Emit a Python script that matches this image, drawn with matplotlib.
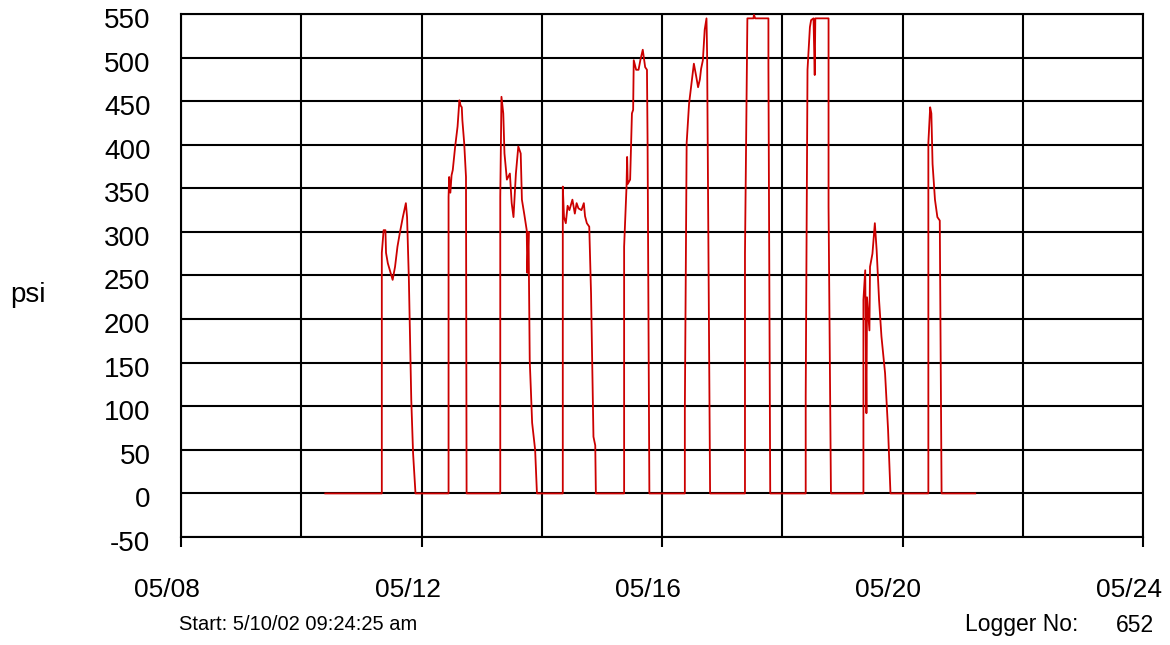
import matplotlib
matplotlib.use("Agg")
import matplotlib.pyplot as plt
import matplotlib.transforms as mtransforms
import numpy as np

# logger samples: day of May (fractional) and pressure in psi
day = [10.40, 11.34, 11.34, 11.37, 11.40, 11.41, 11.44, 11.52, 11.56, 11.60,
       11.64, 11.69, 11.74, 11.76, 11.79, 11.83, 11.86, 11.90,
       12.45, 12.45, 12.46, 12.48, 12.50, 12.52, 12.56, 12.60, 12.63, 12.65,
       12.67, 12.68, 12.71, 12.74, 12.75,
       13.31, 13.31, 13.33, 13.36, 13.38, 13.42, 13.47, 13.50, 13.53, 13.57,
       13.61, 13.65, 13.67, 13.71, 13.75, 13.76, 13.78, 13.80, 13.84, 13.89, 13.92,
       14.35, 14.35, 14.37, 14.40, 14.43, 14.46, 14.51, 14.55, 14.58, 14.61,
       14.66, 14.70, 14.72, 14.75, 14.79, 14.82, 14.86, 14.89, 14.90,
       15.37, 15.37, 15.41, 15.42, 15.43, 15.47, 15.50, 15.52, 15.53, 15.57,
       15.61, 15.64, 15.68, 15.72, 15.75, 15.76, 15.79,
       16.38, 16.38, 16.41, 16.45, 16.49, 16.53, 16.57, 16.60, 16.63, 16.65,
       16.68, 16.71, 16.74, 16.75, 16.80,
       17.38, 17.38, 17.42, 17.52, 17.53, 17.55, 17.77, 17.77, 17.80,
       18.39, 18.39, 18.42, 18.46, 18.48, 18.52, 18.54, 18.55, 18.77, 18.77, 18.81,
       19.35, 19.35, 19.38, 19.40, 19.41, 19.45, 19.46, 19.50, 19.54, 19.57,
       19.61, 19.65, 19.71, 19.76, 19.80,
       20.43, 20.43, 20.46, 20.48, 20.50, 20.54, 20.58, 20.62, 20.65, 21.21]
psi = [0, 0, 276, 302, 302, 276, 264, 245, 260, 283,
       299, 317, 333, 317, 245, 107, 46, 0,
       0, 340, 363, 345, 365, 371, 398, 421, 451, 445,
       443, 428, 402, 363, 0,
       0, 340, 455, 436, 390, 360, 367, 333, 317, 367,
       398, 390, 337, 320, 302, 253, 300, 153, 81, 50, 0,
       0, 352, 317, 310, 330, 325, 337, 321, 333, 327,
       325, 333, 318, 310, 306, 229, 65, 55, 0,
       0, 283, 352, 386, 355, 360, 436, 440, 497, 486,
       486, 497, 509, 489, 486, 405, 0,
       0, 96, 402, 447, 470, 493, 478, 466, 475, 487,
       497, 532, 545, 505, 0,
       0, 275, 545, 545, 549, 545, 545, 491, 0,
       0, 111, 486, 535, 543, 545, 480, 545, 545, 329, 0,
       0, 222, 256, 92, 225, 187, 260, 275, 310, 279,
       222, 180, 138, 73, 0,
       0, 402, 443, 436, 378, 337, 317, 313, 0, 0]

major_days = [8, 12, 16, 20, 24]
minor_days = [10, 14, 18, 22]
y_ticks = list(range(-50, 551, 50))

plt.rcParams['font.family'] = ['Liberation Sans Narrow', 'Liberation Sans', 'DejaVu Sans']

fig = plt.figure(figsize=(11.7, 6.45), dpi=100)
ax = fig.add_axes([181 / 1170, 1 - 537 / 645, 962 / 1170, 523 / 645])

ax.plot(day, psi, color='#cc0000', lw=1.3, zorder=3)

ax.set_xlim(8, 24)
ax.set_ylim(-50, 550)
ax.set_xticks(major_days)
ax.set_xticks(minor_days, minor=True)
ax.set_xticklabels(["05/%02d" % d for d in major_days])
ax.set_yticks(y_ticks)
ax.set_yticklabels([str(v) for v in y_ticks])

ax.grid(True, which='both', axis='x', color='black', lw=1.5)
ax.grid(True, which='major', axis='y', color='black', lw=1.5)
for s in ax.spines.values():
    s.set_linewidth(1.5)
    s.set_color('black')

ax.tick_params(axis='x', which='major', length=7.5, width=1.5, direction='out',
               pad=22, labelsize=19)
ax.tick_params(axis='x', which='minor', length=0)
ax.tick_params(axis='y', length=0, pad=22, labelsize=20)

# labels sit a bit off their ticks in the original
y_off = mtransforms.ScaledTranslation(0, -4 / 100, fig.dpi_scale_trans)
for lbl in ax.get_yticklabels():
    lbl.set_transform(lbl.get_transform() + y_off)
x_off = mtransforms.ScaledTranslation(-14 / 100, 0, fig.dpi_scale_trans)
for lbl in ax.get_xticklabels():
    lbl.set_transform(lbl.get_transform() + x_off)

fig.text(10 / 1170, 1 - 295 / 645, "psi", fontsize=20, va='center', ha='left')
fig.text(179 / 1170, 1 - 625 / 645, "Start: 5/10/02 09:24:25 am", fontsize=14.5,
         va='center', ha='left')
fig.text(965 / 1170, 1 - 625 / 645, "Logger No:", fontsize=16.5, va='center', ha='left')
fig.text(1154 / 1170, 1 - 625 / 645, "652", fontsize=16.5, va='center', ha='right')

fig.savefig("out.png", dpi=100)
